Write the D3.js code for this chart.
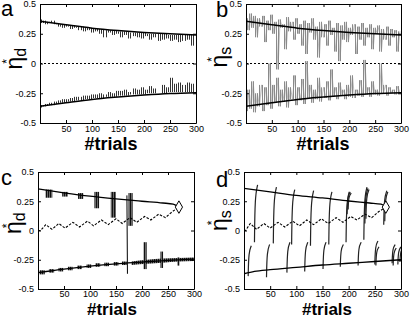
<!DOCTYPE html>
<html>
<head>
<meta charset="utf-8">
<script src="https://cdnjs.cloudflare.com/ajax/libs/d3/7.8.5/d3.min.js"></script>
<style>
  body { margin: 0; background: #fff; }
  svg { display: block; font-family: "Liberation Sans", Arial, sans-serif; }
  .tick text { font-size: 9px; fill: #000; }
  .domain { stroke: #000; }
  .tick line { stroke: #000; }
</style>
</head>
<body>
<svg width="410" height="317">
  <defs>
    <pattern id="hatch" width="2" height="4" patternUnits="userSpaceOnUse">
      <rect width="2" height="4" fill="#6a6a6a"></rect>
      <rect width="1" height="4" fill="#111"></rect>
    </pattern>
  </defs>
</svg>
<script>
const xTicks = [50, 100, 150, 200, 250, 300];
const yTicks = [-0.5, -0.25, 0, 0.25, 0.5];
const yTickLabels = ["-0.5", "-0.25", "0", "0.25", "0.5"];

// noisy traces, one value every 4 trials starting at trial 2
const aUpper = [0.37,0.34,0.36,0.33,0.35,0.34,0.36,0.33,
  0.34,0.31,0.33,0.30,0.33,0.31,0.32,0.29,0.32,0.30,
  0.31,0.28,0.31,0.27,0.30,0.28,0.30,0.26,0.29,0.27,
  0.29,0.25,0.29,0.22,0.28,0.26,0.28,0.24,0.28,0.25,
  0.27,0.22,0.27,0.24,0.27,0.21,0.26,0.23,0.26,0.22,
  0.26,0.21,0.26,0.23,0.25,0.20,0.25,0.22,0.25,0.19,
  0.25,0.20,0.25,0.21,0.24,0.19,0.24,0.20,0.24,0.18,
  0.24,0.19,0.24,0.20,0.24,0.15,0.24];
const aLower = [-0.37,-0.35,-0.36,-0.34,-0.35,-0.33,-0.35,-0.32,
  -0.34,-0.31,-0.33,-0.30,-0.33,-0.30,-0.32,-0.29,-0.32,-0.28,
  -0.31,-0.28,-0.31,-0.27,-0.30,-0.27,-0.30,-0.26,-0.29,-0.26,
  -0.29,-0.25,-0.29,-0.26,-0.28,-0.24,-0.28,-0.25,-0.28,-0.23,
  -0.27,-0.23,-0.27,-0.22,-0.27,-0.24,-0.26,-0.21,-0.26,-0.22,
  -0.26,-0.20,-0.26,-0.22,-0.25,-0.19,-0.25,-0.21,-0.25,-0.25,
  -0.25,-0.18,-0.25,-0.20,-0.24,-0.12,-0.24,-0.17,-0.24,-0.16,
  -0.24,-0.18,-0.24,-0.16,-0.24,-0.17,-0.24];
const bUpper = [0.38,0.28,0.42,0.30,0.40,0.22,0.38,0.31,
  0.40,0.18,0.36,0.28,0.41,0.25,0.35,-0.05,0.37,0.30,
  0.33,0.12,0.39,0.27,0.35,0.20,0.38,0.25,0.33,0.15,
  0.36,0.08,0.34,0.26,0.38,0.20,0.31,0.05,0.35,0.22,
  0.33,0.15,0.36,0.24,0.30,0.10,0.34,0.02,0.32,0.20,
  0.35,0.18,0.30,0.24,0.33,0.08,0.31,0.20,0.34,0.15,
  0.30,0.22,0.33,0.12,0.30,0.25,0.32,0.10,0.29,0.20,
  0.31,0.15,0.29,0.22,0.28,0.10,0.27];
const bLower = [-0.40,-0.22,-0.38,-0.15,-0.41,-0.25,-0.36,-0.18,
  -0.40,-0.20,-0.35,0.00,-0.38,-0.18,-0.33,-0.12,-0.36,-0.22,
  -0.32,-0.15,-0.37,-0.20,-0.30,-0.10,-0.35,-0.20,-0.31,-0.13,
  -0.34,0.02,-0.29,-0.18,-0.33,-0.22,-0.30,-0.12,-0.32,-0.20,
  -0.29,-0.15,-0.31,-0.05,-0.28,-0.20,-0.30,-0.16,-0.27,-0.22,
  -0.30,-0.18,-0.28,-0.10,-0.29,-0.22,-0.27,-0.14,-0.28,0.03,
  -0.26,-0.20,-0.28,-0.15,-0.26,-0.22,-0.27,0.00,-0.25,-0.18,
  -0.27,-0.20,-0.25,-0.22,-0.26,-0.19,-0.25];

// smooth fixed-point curves [trial, value]
const abUpperCurve = [[0,0.355],[50,0.325],[100,0.297],[150,0.277],[200,0.261],[250,0.249],[300,0.24]];
const abLowerCurve = [[0,-0.36],[50,-0.33],[100,-0.302],[150,-0.282],[200,-0.265],[250,-0.252],[300,-0.245]];
const cUpperCurve = [[0,0.355],[50,0.322],[100,0.293],[150,0.27],[200,0.25],[240,0.235],[260,0.225],[271,0.2]];
const cLowerCurve = [[0,-0.36],[50,-0.33],[100,-0.305],[150,-0.285],[200,-0.27],[250,-0.255],[300,-0.245]];
const dUpperCurve = [[0,0.36],[50,0.33],[100,0.30],[150,0.278],[200,0.252],[240,0.235],[262,0.225],[271,0.2]];
const dLowerCurve = [[0,-0.37],[20,-0.35],[50,-0.335],[100,-0.315],[150,-0.295],[200,-0.28],[250,-0.265],[300,-0.25]];
const cZigzag = [[0,0.0],[5,0.0],[15,0.05],[27,0.01],[40,0.06],[52,0.02],[67,0.07],[80,0.03],[95,0.08],
  [107,0.04],[122,0.09],[135,0.05],[150,0.10],[162,0.06],[177,0.11],[190,0.07],[205,0.12],[217,0.09],
  [232,0.14],[245,0.11],[258,0.16],[271,0.2]];
const dZigzag = [[0,0.0],[3,0.0],[12,0.06],[24,0.01],[38,0.06],[50,0.02],[65,0.07],[78,0.03],[93,0.08],
  [106,0.04],[120,0.09],[133,0.05],[148,0.10],[161,0.06],[176,0.11],[189,0.07],[204,0.12],[216,0.09],
  [231,0.14],[244,0.11],[257,0.16],[271,0.2]];
const fixedPoint = [271, 0.2];

// panel c oscillation bursts [centre trial, low, high, width in trials]
const cBursts = [[21,0.28,0.35,13],[52,0.29,0.33,11],[82,0.27,0.32,10],[113,0.19,0.33,9],[145,0.11,0.33,10],[178,0.04,0.32,8],
  [8,-0.375,-0.34,10],[26,-0.36,-0.33,10],[44,-0.35,-0.32,9],[62,-0.34,-0.31,9],[80,-0.33,-0.30,9],
  [98,-0.32,-0.29,9],[115,-0.31,-0.28,9],[132,-0.305,-0.275,9],[150,-0.30,-0.27,9],[166,-0.295,-0.265,9],
  [206,-0.33,-0.10,6],[238,-0.32,-0.18,5],[270,-0.30,-0.23,4]];
const cBand = [[180,-0.295,-0.265],[210,-0.285,-0.25],[240,-0.275,-0.24],[270,-0.265,-0.235],[300,-0.26,-0.23]];
const cSpike = [[171,0.30],[172,-0.37]];

// panel d swings [trial, bottom value, top value]
const dUpperSwings = [[20,-0.10,0.39],[56,-0.11,0.37],[91,-0.12,0.35],[127,-0.13,0.34],[162,-0.12,0.33],
  [195,-0.10,0.33],[197,0.14,0.33],[199,0.18,0.32],[229,-0.08,0.37],[231,0.06,0.36],[233,0.10,0.35],
  [267,0.05,0.34],[269,0.08,0.33]];
const dLowerSwings = [[8,-0.39,-0.13],[43,-0.40,-0.12],[82,-0.36,-0.10],[116,-0.35,-0.10],[151,-0.33,-0.10],
  [184,-0.31,-0.12],[218,-0.30,-0.10],[250,-0.29,-0.09],[252,-0.30,-0.14],[283,-0.28,-0.12],[285,-0.30,-0.15],
  [294,-0.29,-0.14],[298,-0.27,-0.15]];

const panels = [
  {id: "a", x0: 40, x1: 196, y0: 4, y1: 123, sub: "d", lx: 1, ly: 16, xlab: 111, xlaby: 149.5, pad: 3, etaX: 22, starX: 11, starY: 61.5},
  {id: "b", x0: 246, x1: 401, y0: 4, y1: 123, sub: "s", lx: 216, ly: 17, xlab: 323, xlaby: 149.5, pad: 3, etaX: 227, starX: 216, starY: 59.5},
  {id: "c", x0: 38, x1: 194, y0: 172, y1: 289, sub: "d", lx: 1, ly: 185, xlab: 112, xlaby: 314.5, pad: 1.5, etaX: 21, starX: 11, starY: 226},
  {id: "d", x0: 244, x1: 401, y0: 172, y1: 289, sub: "s", lx: 216, ly: 187, xlab: 327, xlaby: 314.5, pad: 1.5, etaX: 227, starX: 216, starY: 223}
];

const svg = d3.select("svg");

panels.forEach(p => {
  const x = d3.scaleLinear().domain([0, 300]).range([p.x0, p.x1]);
  const y = d3.scaleLinear().domain([-0.5, 0.5]).range([p.y1, p.y0]);
  const g = svg.append("g").attr("id", "panel-" + p.id);
  const line = d3.line().x(d => x(d[0])).y(d => y(d[1]));
  const smooth = d3.line().x(d => x(d[0])).y(d => y(d[1])).curve(d3.curveMonotoneX);
  // trace drawn as vertical strokes between successive samples
  const strokes = vals => vals.slice(0, -1)
    .map((v, i) => `M${Math.round(x(2 + 4 * i)) + 0.5},${y(v)}V${y(vals[i + 1])}`).join("");

  g.append("clipPath").attr("id", "clip-" + p.id)
    .append("rect").attr("x", p.x0).attr("y", p.y0).attr("width", p.x1 - p.x0).attr("height", p.y1 - p.y0);
  const plot = g.append("g").attr("clip-path", "url(#clip-" + p.id + ")");

  if (p.id === "a" || p.id === "b") {
    plot.append("line")
      .attr("x1", x(0)).attr("x2", x(300)).attr("y1", y(0)).attr("y2", y(0))
      .attr("stroke", "#000").attr("stroke-dasharray", "2,2");
    const up = p.id === "a" ? aUpper : bUpper;
    const lo = p.id === "a" ? aLower : bLower;
    if (p.id === "b") {
      [up, lo].forEach(vals => {
        plot.append("path").attr("d", line(vals.map((v, i) => [2 + 4 * i, v])))
          .attr("fill", "none").attr("stroke", "#b0b0b0").attr("stroke-width", 0.8);
      });
    }
    const col = p.id === "a" ? "#333" : "#8a8a8a";
    [up, lo].forEach(vals => {
      plot.append("path").attr("d", strokes(vals))
        .attr("fill", "none").attr("stroke", col).attr("stroke-width", 1);
    });
    [abUpperCurve, abLowerCurve].forEach(c => {
      plot.append("path").attr("d", smooth(c))
        .attr("fill", "none").attr("stroke", "#000").attr("stroke-width", 1.5);
    });
  }

  if (p.id === "c") {
    plot.selectAll("rect.burst").data(cBursts).enter().append("rect")
      .attr("class", "burst")
      .attr("x", d => x(d[0] - d[3] / 2)).attr("width", d => x(d[3]) - x(0))
      .attr("y", d => y(d[2])).attr("height", d => y(d[1]) - y(d[2]))
      .attr("fill", "url(#hatch)");
    plot.append("path")
      .attr("d", d3.area().x(d => x(d[0])).y0(d => y(d[1])).y1(d => y(d[2])).curve(d3.curveMonotoneX)(cBand))
      .attr("fill", "url(#hatch)");
    plot.append("path").attr("d", line(cSpike)).attr("stroke", "#000").attr("stroke-width", 1);
  }

  if (p.id === "d") {
    const swing = d3.line().x(d => x(d[0])).y(d => y(d[1])).curve(d3.curveBasis);
    dUpperSwings.concat(dLowerSwings).forEach(s => {
      plot.append("path")
        .attr("d", swing([[s[0], s[1]], [s[0] + 1, s[1] + (s[2] - s[1]) * 0.8], [s[0] + 6, s[2]]]))
        .attr("fill", "none").attr("stroke", "#222").attr("stroke-width", 1.2);
    });
  }

  if (p.id === "c" || p.id === "d") {
    const cu = p.id === "c" ? cUpperCurve : dUpperCurve;
    const cl = p.id === "c" ? cLowerCurve : dLowerCurve;
    const zz = p.id === "c" ? cZigzag : dZigzag;
    plot.append("path").attr("d", line(zz))
      .attr("fill", "none").attr("stroke", "#000").attr("stroke-width", 1.1).attr("stroke-dasharray", "2.5,1.5");
    [cu, cl].forEach(c => {
      plot.append("path").attr("d", smooth(c))
        .attr("fill", "none").attr("stroke", "#000").attr("stroke-width", 1.3);
    });
    plot.append("path")
      .attr("transform", `translate(${x(fixedPoint[0])},${y(fixedPoint[1])})`)
      .attr("d", d3.symbol(d3.symbolDiamond, 45)())
      .attr("fill", "#fff").attr("stroke", "#000");
  }

  // axes, ticks pointing inward on all four sides
  g.append("g").attr("transform", `translate(0,${p.y1})`)
    .call(d3.axisBottom(x).tickValues(xTicks).tickSizeInner(-3).tickSizeOuter(0).tickPadding(p.pad));
  g.append("g").attr("transform", `translate(0,${p.y0})`)
    .call(d3.axisTop(x).tickValues(xTicks).tickSizeInner(-3).tickSizeOuter(0).tickFormat(""));
  g.append("g").attr("transform", `translate(${p.x0},0)`)
    .call(d3.axisLeft(y).tickValues(yTicks).tickSizeInner(-3).tickSizeOuter(0).tickPadding(4)
      .tickFormat((d, i) => yTickLabels[i]));
  g.append("g").attr("transform", `translate(${p.x1},0)`)
    .call(d3.axisRight(y).tickValues(yTicks).tickSizeInner(-3).tickSizeOuter(0).tickFormat(""));

  g.append("text").attr("x", p.xlab).attr("y", p.xlaby).attr("text-anchor", "middle")
    .attr("font-size", p.id === "c" || p.id === "d" ? 17 : 18).attr("font-weight", "bold").text("#trials");

  g.append("text").attr("x", p.lx).attr("y", p.ly).attr("font-size", 22).text(p.id);

  // rotated y label: eta with subscript, asterisk above the eta
  const lab = g.append("text").attr("transform", `translate(${p.etaX},${p.starY + 8}) rotate(-90)`)
    .attr("font-size", 23);
  lab.append("tspan").text("η");
  lab.append("tspan").attr("font-size", 16).attr("dy", 4).text(p.sub);
  g.append("text").attr("transform", `translate(${p.starX},${p.starY}) rotate(-90)`)
    .attr("font-size", 12).attr("text-anchor", "middle").text("*");
});
</script>
</body>
</html>
